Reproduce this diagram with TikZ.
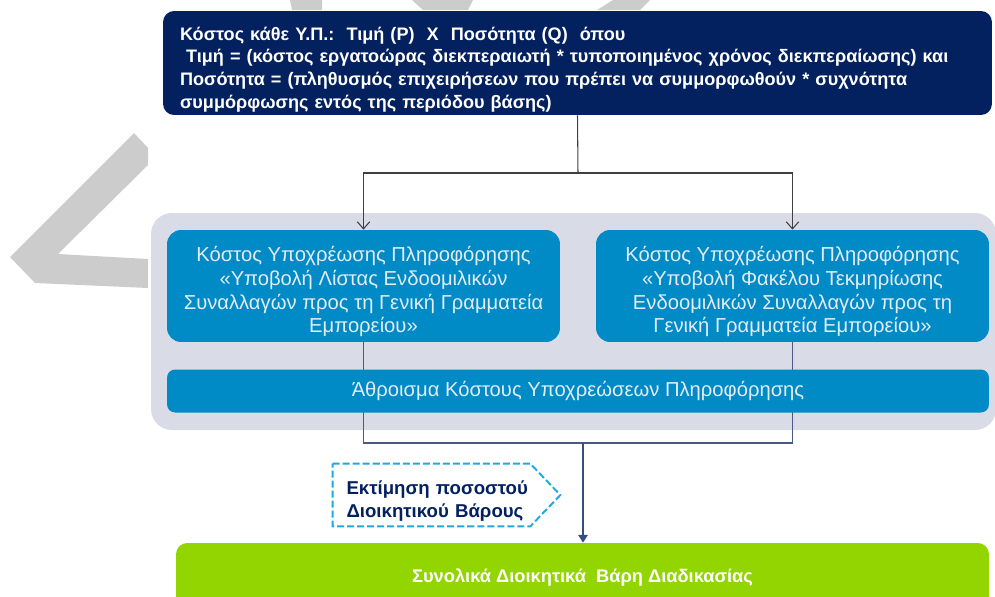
\documentclass[tikz,border=0pt]{standalone}
\usepackage{fontspec}
\setmainfont{Liberation Sans}
\usetikzlibrary{positioning, calc, arrows.meta}

\definecolor{costnavy}{HTML}{03205F}
\definecolor{costblue}{HTML}{008AC6}
\definecolor{paneltone}{HTML}{D9DCE6}
\definecolor{lighttext}{HTML}{E4ECF3}
\definecolor{totalgreen}{HTML}{93D500}
\definecolor{markgrey}{HTML}{CCCCCC}
\definecolor{linkline}{HTML}{4A5A85}
\definecolor{estline}{HTML}{1FA8E0}

\begin{document}
\begin{tikzpicture}[x=0.02cm, y=-0.02cm,
    navybox/.style={fill=costnavy, rounded corners=0.22cm, minimum width=16.58cm,
      minimum height=2.08cm, inner xsep=0.34cm, inner ysep=0pt, text width=15.9cm,
      align=left, text=white, font=\fontsize{10.3}{12.9}\selectfont\bfseries},
    bluebox/.style={fill=costblue, rounded corners=0.28cm, minimum width=7.86cm,
      minimum height=2.24cm, inner sep=0pt, align=center, text=lighttext,
      font=\fontsize{11.5}{13.6}\selectfont},
    greenbox/.style={fill=totalgreen, rounded corners=0.22cm, minimum width=16.26cm,
      minimum height=1.4cm, text=white, font=\fontsize{10.4}{13}\selectfont\bfseries},
    topline/.style={draw=black!75, line width=0.6pt, -{Straight Barb[width=7pt,length=4pt]}},
    lowline/.style={draw=linkline, line width=0.7pt}]

    \clip (0,0) rectangle (995,596);

    % watermark
    \fill[markgrey] (134,133) -- (148,148) -- (148,165) -- (58,254) -- (148,259)
      -- (148,288) -- (35,283) -- (10,257) -- cycle;
    \fill[markgrey] (290,0) -- (322,0) -- (322,10) -- (292,10) -- cycle;
    \fill[markgrey] (412,0) -- (473,0) -- (468,10) -- (423,10) -- cycle;
    \fill[markgrey] (613,0) -- (650,0) -- (640,10) -- (597,10) -- cycle;

    % top box
    \node[navybox] (cost) at (577.5,63) {%
      \rule{0pt}{15pt}Κόστος κάθε Υ.Π.:\ \ Τιμή (P)\ \ X\ \ Ποσότητα (Q)\ \ όπου\\
      \ Τιμή = (κόστος εργατοώρας διεκπεραιωτή * τυποποιημένος χρόνος διεκπεραίωσης) και\\
      Ποσότητα = (πληθυσμός επιχειρήσεων που πρέπει να συμμορφωθούν * συχνότητα\\
      συμμόρφωσης εντός της περιόδου βάσης)};

    % panel
    \fill[paneltone, rounded corners=0.42cm] (151,213) rectangle (996,430);

    % the two obligations
    \node[bluebox] (listbox) at (363.5,286) {\rule{0pt}{15pt}Κόστος Υποχρέωσης Πληροφόρησης\\
      «Υποβολή Λίστας Ενδοομιλικών\\Συναλλαγών προς τη Γενική Γραμματεία\\Εμπορείου»};
    \node[bluebox] (filebox) at (792.5,286) {\rule{0pt}{15pt}Κόστος Υποχρέωσης Πληροφόρησης\\
      «Υποβολή Φακέλου Τεκμηρίωσης\\Ενδοομιλικών Συναλλαγών προς τη\\Γενική Γραμματεία Εμπορείου»};

    % split
    \coordinate (split) at (578,173);
    \draw[line width=0.6pt, black!75] (cost.south) -- (split);
    \draw[topline] (split) -| (listbox.north);
    \draw[topline] (split) -| (filebox.north);

    % merge
    \coordinate (merge) at (583,443);
    \draw[lowline] (listbox.south) |- (merge) -| (filebox.south);

    % sum
    \node[bluebox, minimum width=16.44cm, minimum height=0.86cm, rounded corners=0.16cm]
      (sumbar) at (578,391) {Άθροισμα Κόστους Υποχρεώσεων Πληροφόρησης};

    % estimate
    \node[minimum width=4.54cm, minimum height=1.24cm, inner sep=0pt, text width=4.0cm,
      align=left, text=costnavy, font=\fontsize{10.6}{13}\selectfont\bfseries]
      (est) at (446.5,495) {\rule{0pt}{14.3pt}Εκτίμηση ποσοστού\\Διοικητικού Βάρους};
    \draw[estline, line width=1.1pt, dash pattern=on 4pt off 1.7pt]
      (est.north west) -- ([xshift=-0.6cm]est.north east) -- (est.east)
      -- ([xshift=-0.6cm]est.south east) -- (est.south west) -- cycle;

    % total
    \node[greenbox] (total) at (582.5,578) {Συνολικά Διοικητικά\ \ Βάρη Διαδικασίας};
    \draw[line width=0.7pt, -{Triangle[width=5.5pt,length=4.5pt]}, color=costnavy!80]
      (merge) -- (merge |- total.north);

\end{tikzpicture}
\end{document}
